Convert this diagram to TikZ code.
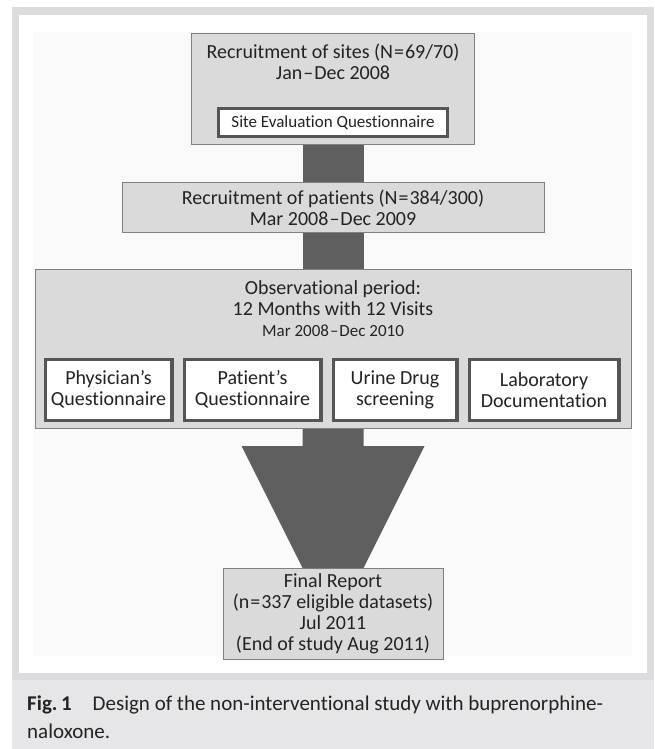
\documentclass[tikz,border=0pt]{standalone}
\usepackage{fontspec}
\setmainfont{Carlito}[Ligatures={TeX,NoCommon}]
\usetikzlibrary{positioning}
\definecolor{framegray}{RGB}{220,220,222}
\definecolor{capgray}{RGB}{230,230,232}
\definecolor{panelgray}{RGB}{250,250,250}
\definecolor{boxgray}{RGB}{218,218,218}
\definecolor{edgegray}{RGB}{128,128,128}
\definecolor{darkedge}{RGB}{85,85,85}
\definecolor{stemgray}{RGB}{95,95,95}
\definecolor{inkgray}{RGB}{35,35,35}
\newcommand{\tsp}{\kern1pt}

\begin{document}
\begin{tikzpicture}[node distance=9pt, text=inkgray, font=\fontsize{20}{21}\selectfont,
  phase/.style={draw=edgegray, fill=boxgray, line width=1pt, align=center, inner sep=0pt},
  doc/.style={draw=darkedge, fill=white, line width=3.5pt, align=center, inner sep=0pt, minimum height=61pt},
  stem/.style={draw=stemgray, line width=61pt}]

  \useasboundingbox (0,0) rectangle (654pt,-749pt);
  % frame, panel and caption band
  \fill[framegray] (12pt,-7pt) rectangle (654pt,-749pt);
  \fill[white] (19pt,-15pt) rectangle (647pt,-673pt);
  \fill[panelgray] (33pt,-32pt) rectangle (632pt,-656pt);
  \fill[capgray] (12pt,-680pt) rectangle (654pt,-749pt);

  % phases
  \node[phase, minimum width=283pt, minimum height=111pt, anchor=north] (sites) at (333pt,-33pt) {};
  \node[below=7pt of sites.north, align=center] (sitestxt) {Recruitment of sites (N\tsp=\tsp69/70)\\Jan\tsp–\tsp Dec 2008};
  \node[doc, line width=3pt, minimum width=229pt, minimum height=28pt, font=\fontsize{17}{18}\selectfont, above=7pt of sites.south] (siteq) {Site Evaluation Questionnaire};

  \node[phase, minimum width=422pt, minimum height=50pt, below=37pt of sites] (patients) {Recruitment of patients (N\tsp=\tsp384/300)\\Mar 2008\tsp–\tsp Dec 2009};

  \node[phase, minimum width=596pt, minimum height=159pt, below=36pt of patients] (obs) {};
  \node[below=8pt of obs.north, align=center] (obstxt) {Observational period:\\12 Months with 12 Visits\\{\fontsize{17}{19}\selectfont Mar 2008\tsp–\tsp Dec 2010}};
  \node[doc, minimum width=126.5pt, above right=7pt and 9pt of obs.south west] (physq) {Physician’s\\Questionnaire};
  \node[doc, minimum width=136.5pt, right=9pt of physq] (patq) {Patient’s\\Questionnaire};
  \node[doc, minimum width=123.5pt, right=9pt of patq] (urine) {Urine Drug\\screening};
  \node[doc, minimum width=149.5pt, right=9pt of urine] (labdoc) {Laboratory\\Documentation};

  \node[phase, minimum width=220pt, minimum height=91pt, below=139pt of obs] (final) {Final Report\\(n\tsp=\tsp337 eligible datasets)\\Jul 2011\\(End of study Aug 2011)};

  % arrows
  \draw[stem] (sites.south) -- (patients.north);
  \draw[stem] (patients.south) -- (obs.north);
  \fill[stemgray] ([xshift=-30.5pt]obs.south) -- ([xshift=-30.5pt,yshift=-17pt]obs.south)
    -- ([xshift=-91.5pt,yshift=-17pt]obs.south) -- ([xshift=-30.5pt]final.north)
    -- ([xshift=30.5pt]final.north) -- ([xshift=91.5pt,yshift=-17pt]obs.south)
    -- ([xshift=30.5pt,yshift=-17pt]obs.south) -- ([xshift=30.5pt]obs.south) -- cycle;

  % caption
  \node[anchor=north west, align=left, inner sep=0pt, font=\fontsize{21}{28}\selectfont] (caption) at (27pt,-696pt) {\textbf{Fig.\,1}\quad Design of the non-interventional study with buprenorphine-\\naloxone.};
\end{tikzpicture}
\end{document}
